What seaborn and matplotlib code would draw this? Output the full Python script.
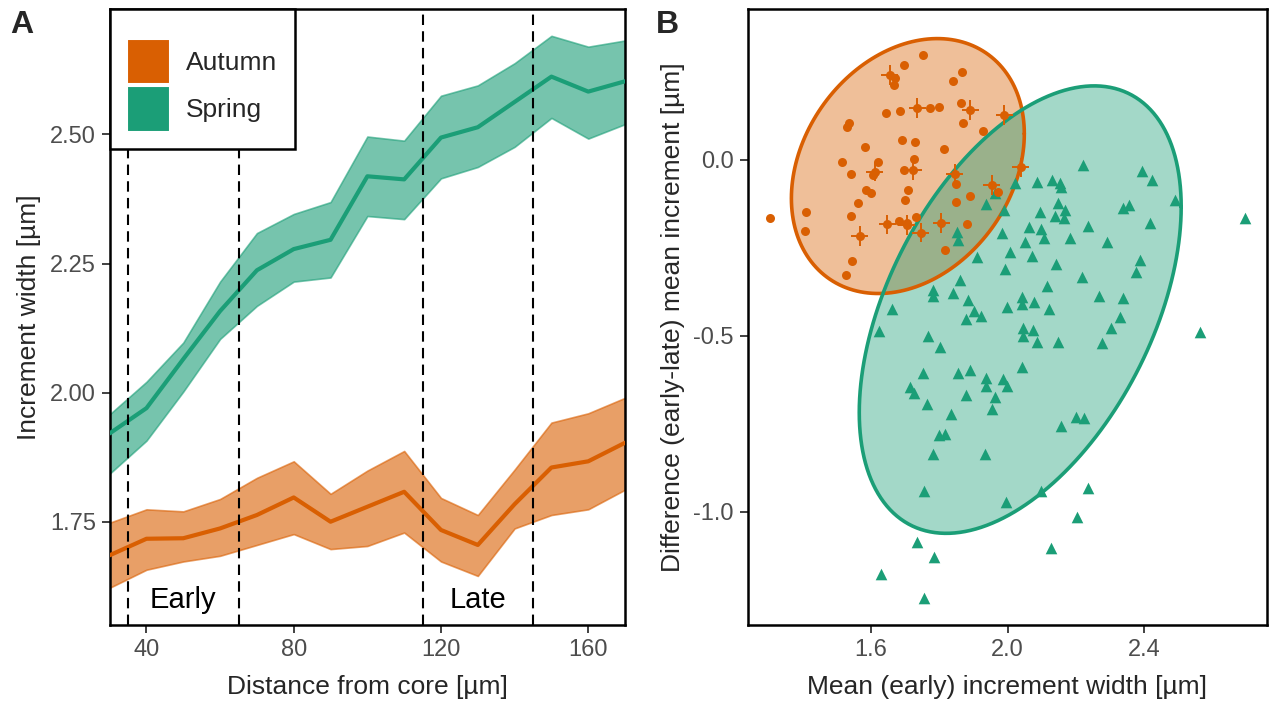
import numpy as np
import pandas as pd
import matplotlib
matplotlib.use("Agg")
import matplotlib.pyplot as plt
import seaborn as sns
from matplotlib.patches import Patch

# ---------------- data: panel A ----------------
distance = [30, 40, 50, 60, 70, 80, 90, 100, 110, 120, 130, 140, 150, 160, 170]
autumn_mean = [1.685, 1.717, 1.718, 1.737, 1.763, 1.797, 1.750, 1.779, 1.808, 1.734, 1.705, 1.784, 1.855, 1.867, 1.903]
autumn_upper = [1.748, 1.774, 1.770, 1.794, 1.835, 1.867, 1.804, 1.849, 1.887, 1.796, 1.763, 1.851, 1.942, 1.960, 1.990]
autumn_lower = [1.622, 1.657, 1.673, 1.684, 1.705, 1.726, 1.697, 1.703, 1.729, 1.673, 1.645, 1.737, 1.763, 1.774, 1.812]
spring_mean = [1.921, 1.970, 2.065, 2.158, 2.237, 2.278, 2.296, 2.419, 2.413, 2.494, 2.514, 2.563, 2.612, 2.583, 2.603]
spring_upper = [1.958, 2.021, 2.097, 2.215, 2.309, 2.346, 2.369, 2.496, 2.488, 2.575, 2.595, 2.638, 2.691, 2.670, 2.682]
spring_lower = [1.843, 1.907, 2.002, 2.104, 2.168, 2.215, 2.223, 2.342, 2.336, 2.415, 2.437, 2.476, 2.532, 2.492, 2.520]
window_lines = [35, 65, 115, 145]
window_labels = ["Early", "Late"]
window_label_x = [50, 130]

# ---------------- data: panel B ----------------
autumn_x = [1.305, 1.752, 1.696, 1.865, 1.840, 1.655, 1.669, 1.666, 1.645, 1.684,
            1.735, 1.772, 1.798, 1.863, 1.891, 1.868, 1.990, 1.928, 1.534, 1.529,
            1.581, 1.692, 1.728, 1.814, 1.516, 1.542, 1.620, 1.611, 1.606, 1.725,
            1.696, 1.723, 2.038, 1.845, 1.586, 1.601, 1.708, 1.699, 1.562, 1.850,
            1.891, 1.953, 1.972, 1.850, 1.410, 1.407, 1.540, 1.647, 1.682, 1.704,
            1.704, 1.733, 1.567, 1.745, 1.806, 1.882, 1.816, 1.544, 1.526]
autumn_y = [-0.166, 0.298, 0.270, 0.249, 0.223, 0.241, 0.232, 0.213, 0.134, 0.138,
            0.147, 0.147, 0.150, 0.163, 0.142, 0.104, 0.127, 0.081, 0.104, 0.095,
            0.038, 0.056, 0.050, 0.031, -0.006, -0.041, -0.005, -0.033, -0.043, 0.002,
            -0.029, -0.029, -0.021, -0.040, -0.084, -0.095, -0.086, -0.115, -0.123, -0.069,
            -0.101, -0.072, -0.090, -0.120, -0.147, -0.201, -0.159, -0.183, -0.172, -0.178,
            -0.184, -0.161, -0.215, -0.206, -0.180, -0.183, -0.255, -0.286, -0.326]
# points of Autumn that carry error bars (replicated measurements)
autumn_err_idx = [5, 10, 14, 16, 27, 31, 32, 33, 41, 47, 50, 52, 53, 54]
autumn_xerr = 0.025
autumn_yerr = 0.028

spring_x = [2.221, 2.394, 2.422, 2.490, 2.696, 2.085, 2.130, 2.153, 2.155, 2.021,
            1.962, 1.938, 1.990, 2.148, 2.168, 2.138, 2.165, 2.094, 2.337, 2.356,
            2.417, 2.236, 2.063, 2.097, 2.107, 2.182, 2.290, 2.050, 1.984, 1.852,
            1.855, 2.006, 2.072, 1.911, 2.143, 2.388, 2.376, 1.992, 2.217, 1.860,
            1.782, 1.782, 1.840, 2.114, 1.884, 2.041, 2.041, 2.077, 1.999, 2.122,
            2.268, 2.339, 1.661, 1.902, 1.923, 1.877, 2.329, 1.623, 1.767, 1.801,
            2.045, 2.073, 2.045, 2.085, 2.148, 2.302, 2.278, 2.564, 1.752, 1.855,
            1.889, 1.938, 1.938, 1.987, 1.999, 2.041, 1.715, 1.725, 1.879, 1.962,
            1.764, 1.833, 1.953, 1.799, 1.816, 2.155, 2.200, 2.223, 1.780, 1.935,
            1.755, 1.995, 2.099, 2.236, 2.204, 2.126, 1.735, 1.784, 1.630, 1.755]
spring_y = [-0.015, -0.030, -0.058, -0.114, -0.166, -0.063, -0.058, -0.066, -0.078, -0.066,
            -0.095, -0.126, -0.142, -0.123, -0.142, -0.158, -0.166, -0.149, -0.137, -0.129,
            -0.180, -0.187, -0.191, -0.196, -0.223, -0.221, -0.232, -0.232, -0.208, -0.204,
            -0.226, -0.260, -0.273, -0.275, -0.296, -0.283, -0.319, -0.310, -0.331, -0.341,
            -0.369, -0.385, -0.379, -0.357, -0.397, -0.388, -0.410, -0.404, -0.417, -0.424,
            -0.385, -0.393, -0.424, -0.429, -0.442, -0.453, -0.445, -0.486, -0.500, -0.530,
            -0.478, -0.483, -0.500, -0.516, -0.516, -0.478, -0.521, -0.488, -0.605, -0.606,
            -0.598, -0.619, -0.641, -0.621, -0.641, -0.589, -0.644, -0.663, -0.667, -0.673,
            -0.693, -0.722, -0.708, -0.781, -0.777, -0.756, -0.729, -0.734, -0.836, -0.834,
            -0.940, -0.971, -0.940, -0.931, -1.015, -1.103, -1.085, -1.129, -1.177, -1.243]

seasons = ["Autumn", "Spring"]
colors = {"Autumn": "#D95F02", "Spring": "#1B9E77"}

# ---------------- helpers ----------------
def cov_trob(X, nu=5, maxit=25, tol=0.01):
    n, p = X.shape
    loc = X.mean(axis=0)
    w = np.ones(n)
    for _ in range(maxit):
        w0 = w
        Xc = X - loc
        S = (w[:, None] * Xc).T @ Xc / w.sum()
        Q = np.einsum("ij,jk,ik->i", Xc, np.linalg.inv(S), Xc)
        w = (nu + p) / (nu + Q)
        loc = (w[:, None] * X).sum(axis=0) / w.sum()
        if np.all(np.abs(w - w0) < tol):
            break
    Xc = X - loc
    cov = (w[:, None] * Xc).T @ Xc / n
    return loc, cov


def ellipse_path(x, y, level=0.95, segments=181):
    X = np.column_stack([x, y])
    center, shape = cov_trob(X)
    dfn, dfd = 2, len(x) - 1
    fq = dfd / 2.0 * ((1 - level) ** (-2.0 / dfd) - 1)
    radius = np.sqrt(dfn * fq)
    R = np.linalg.cholesky(shape).T
    ang = np.linspace(0, 2 * np.pi, segments)
    circ = np.column_stack([np.cos(ang), np.sin(ang)])
    pts = center + radius * (circ @ R)
    return pts[:, 0], pts[:, 1]


# ---------------- style ----------------
sns.set_theme(style="ticks")
plt.rcParams["font.family"] = ["Liberation Sans", "DejaVu Sans"]
plt.rcParams["axes.linewidth"] = 1.8
plt.rcParams["xtick.major.width"] = 1.3
plt.rcParams["ytick.major.width"] = 1.3
plt.rcParams["xtick.major.size"] = 5.5
plt.rcParams["ytick.major.size"] = 5.5
plt.rcParams["xtick.major.pad"] = 4.5
plt.rcParams["ytick.major.pad"] = 4.5
plt.rcParams["xtick.color"] = "#333333"
plt.rcParams["ytick.color"] = "#333333"
plt.rcParams["xtick.labelcolor"] = "#4D4D4D"
plt.rcParams["ytick.labelcolor"] = "#4D4D4D"
plt.rcParams["axes.edgecolor"] = "black"

fig = plt.figure(figsize=(12.78, 7.02), dpi=100)
ax1 = fig.add_axes([0.0858, 0.1097, 0.4033, 0.8775])
ax2 = fig.add_axes([0.5849, 0.1097, 0.4065, 0.8775])

# ---------------- panel A ----------------
dfA = pd.concat([
    pd.DataFrame({"distance": distance, "mean": autumn_mean, "lower": autumn_lower,
                  "upper": autumn_upper, "season": "Autumn"}),
    pd.DataFrame({"distance": distance, "mean": spring_mean, "lower": spring_lower,
                  "upper": spring_upper, "season": "Spring"}),
])
for s in seasons:
    d = dfA[dfA["season"] == s]
    ax1.fill_between(d["distance"], d["lower"], d["upper"], color=colors[s],
                     alpha=0.6, linewidth=1.2, edgecolor=colors[s], zorder=2)
sns.lineplot(data=dfA, x="distance", y="mean", hue="season", palette=colors,
             linewidth=3.0, legend=False, ax=ax1, zorder=3)
for xv in window_lines:
    ax1.axvline(xv, color="black", linewidth=1.5, linestyle=(0, (5, 3)), zorder=4)
for lab, xv in zip(window_labels, window_label_x):
    ax1.text(xv, 1.598, lab, ha="center", va="center", fontsize=21, color="black")

ax1.set_xlim(30, 170)
ax1.set_ylim(1.55, 2.743)
ax1.set_xticks([40, 80, 120, 160])
ax1.set_yticks([1.75, 2.00, 2.25, 2.50])
ax1.set_yticklabels(["1.75", "2.00", "2.25", "2.50"])
ax1.tick_params(labelsize=17)
ax1.set_xlabel("Distance from core [µm]", fontsize=19, labelpad=10)
ax1.set_ylabel("Increment width [µm]", fontsize=19, labelpad=6)
for sp in ax1.spines.values():
    sp.set_visible(True)

handles = [Patch(facecolor=colors[s], edgecolor="white", linewidth=1.5, label=s) for s in seasons]
leg = ax1.legend(handles=handles, loc="upper left", bbox_to_anchor=(0, 1),
                 borderaxespad=0, fontsize=19, frameon=True, fancybox=False,
                 handlelength=1.65, handleheight=2.25, labelspacing=0.1,
                 handletextpad=0.6, borderpad=0.65, title=" ", title_fontsize=7)
leg.get_frame().set_edgecolor("black")
leg.get_frame().set_linewidth(1.8)
leg.get_frame().set_alpha(1)
leg.set_zorder(10)

# ---------------- panel B ----------------
dfB = pd.concat([
    pd.DataFrame({"mean_early": autumn_x, "difference": autumn_y, "season": "Autumn"}),
    pd.DataFrame({"mean_early": spring_x, "difference": spring_y, "season": "Spring"}),
])
for s, xs, ys in [("Autumn", autumn_x, autumn_y), ("Spring", spring_x, spring_y)]:
    ex, ey = ellipse_path(np.array(xs), np.array(ys))
    ax2.fill(ex, ey, facecolor=colors[s], alpha=0.4, edgecolor="none", zorder=1)
    ax2.plot(ex, ey, color=colors[s], linewidth=2.6, zorder=1.5)

sns.scatterplot(data=dfB[dfB["season"] == "Spring"], x="mean_early", y="difference",
                color=colors["Spring"], marker="^", s=70, linewidth=0, ax=ax2,
                legend=False, zorder=3)
ex_idx = np.array(autumn_err_idx)
ax2.errorbar(np.array(autumn_x)[ex_idx], np.array(autumn_y)[ex_idx],
             xerr=autumn_xerr, yerr=autumn_yerr, fmt="none",
             ecolor=colors["Autumn"], elinewidth=1.4, capsize=0, zorder=4)
sns.scatterplot(data=dfB[dfB["season"] == "Autumn"], x="mean_early", y="difference",
                color=colors["Autumn"], marker="o", s=42, linewidth=0, ax=ax2,
                legend=False, zorder=5)

ax2.set_xlim(1.238, 2.760)
ax2.set_ylim(-1.321, 0.429)
ax2.set_xticks([1.6, 2.0, 2.4])
ax2.set_xticklabels(["1.6", "2.0", "2.4"])
ax2.set_yticks([-1.0, -0.5, 0.0])
ax2.set_yticklabels(["-1.0", "-0.5", "0.0"])
ax2.tick_params(labelsize=17)
ax2.set_xlabel("Mean (early) increment width [µm]", fontsize=19, labelpad=10)
ax2.set_ylabel("Difference (early-late) mean increment [µm]", fontsize=19, labelpad=6)
for sp in ax2.spines.values():
    sp.set_visible(True)

fig.text(0.008, 0.986, "A", fontsize=23, fontweight="bold", ha="left", va="top")
fig.text(0.513, 0.986, "B", fontsize=23, fontweight="bold", ha="left", va="top")

fig.savefig("out.png", dpi=100)
